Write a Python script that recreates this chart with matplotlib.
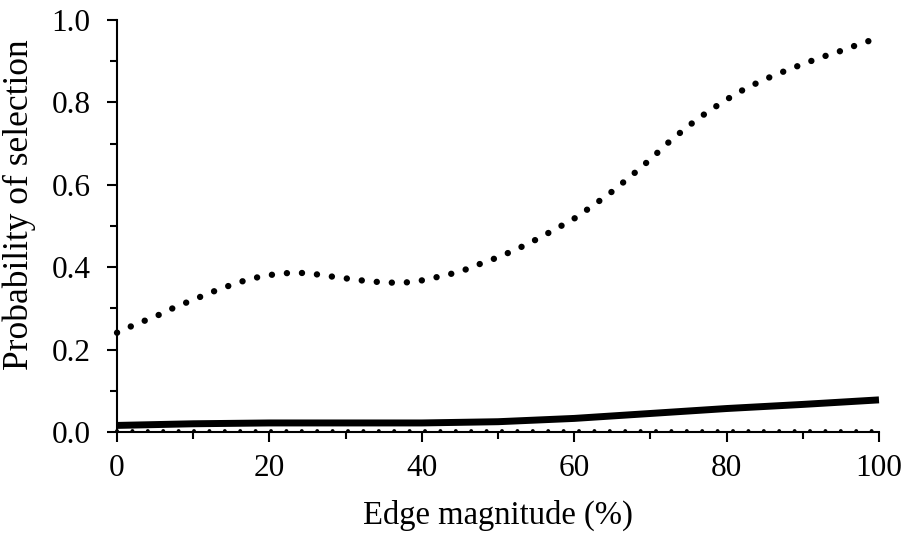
import matplotlib.pyplot as plt
from matplotlib.ticker import MultipleLocator

plt.rcParams['font.family'] = ['Liberation Serif', 'DejaVu Serif']

# Edge magnitude (%) sampled along each curve
edge_upper = [0, 2.5, 5, 7.5, 10, 12.5, 15, 17.5, 20, 22.5, 25, 27.5, 30,
              32.5, 35, 37.5, 40, 42.5, 45, 47.5, 50, 52.5, 55, 57.5, 60,
              62.5, 65, 67.5, 70, 72.5, 75, 77.5, 80, 82.5, 85, 87.5, 90,
              92.5, 95, 97.5, 100]
prob_upper = [0.241, 0.262, 0.280, 0.302, 0.321, 0.340, 0.357, 0.372, 0.381,
              0.386, 0.386, 0.379, 0.373, 0.367, 0.363, 0.362, 0.368, 0.378,
              0.389, 0.407, 0.424, 0.444, 0.467, 0.492, 0.518, 0.550, 0.584,
              0.622, 0.662, 0.705, 0.743, 0.777, 0.807, 0.834, 0.856, 0.875,
              0.893, 0.910, 0.925, 0.942, 0.957]

edge_mid = [0, 10, 20, 30, 40, 50, 60, 70, 80, 90, 100]
prob_mid = [0.016, 0.020, 0.022, 0.022, 0.022, 0.025, 0.033, 0.045, 0.057,
            0.067, 0.078]

edge_low = [0, 25, 50, 75, 100]
prob_low = [0.003, 0.003, 0.003, 0.003, 0.003]

fig = plt.figure(figsize=(9.03, 5.35), dpi=100)
ax = fig.add_axes([0.1296, 0.1925, 0.8438, 0.7701])

ax.plot(edge_upper, prob_upper, color='black', linewidth=4.6,
        linestyle=(0, (0.01, 2.35)), dash_capstyle='round', clip_on=False)
ax.plot(edge_mid, prob_mid, color='black', linewidth=5.0,
        solid_capstyle='butt', clip_on=False)
ax.plot(edge_low, prob_low, color='black', linewidth=2.8,
        linestyle=(0, (0.01, 3.95)), dash_capstyle='round', clip_on=False)

ax.set_xlim(0, 100)
ax.set_ylim(0, 1.0)
ax.xaxis.set_major_locator(MultipleLocator(20))
ax.xaxis.set_minor_locator(MultipleLocator(10))
ax.yaxis.set_major_locator(MultipleLocator(0.2))
ax.yaxis.set_minor_locator(MultipleLocator(0.1))
ax.yaxis.set_major_formatter(lambda v, p: f'{v:.1f}')

for side in ['top', 'right']:
    ax.spines[side].set_visible(False)
for side in ['left', 'bottom']:
    ax.spines[side].set_linewidth(1.5)

ax.tick_params(which='major', direction='out', length=7, width=1.5,
               labelsize=22.5)
ax.tick_params(axis='y', which='major', pad=12)
ax.tick_params(axis='x', which='major', pad=9)
ax.tick_params(which='minor', direction='out', length=5, width=1.5)

ax.set_xlabel('Edge magnitude (%)', fontsize=23.5, labelpad=12)
ax.set_ylabel('Probability of selection', fontsize=25.5)
# y label sits a little above the axis centre
ax.yaxis.set_label_coords(-0.107, 0.551)

fig.savefig('out.png', dpi=100)
